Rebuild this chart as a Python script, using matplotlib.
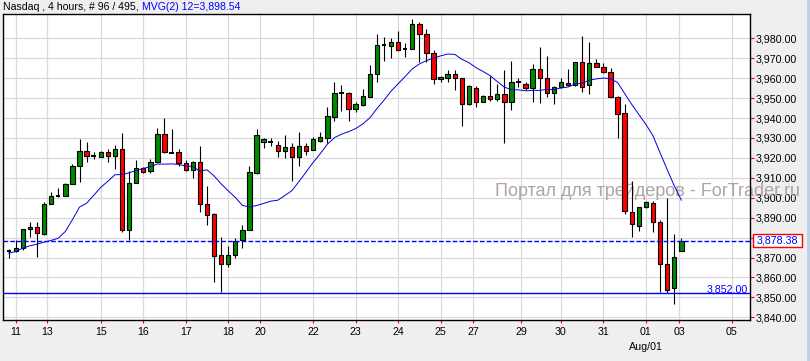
import matplotlib
matplotlib.use('Agg')
import matplotlib.pyplot as plt
import matplotlib.transforms as mtransforms
from matplotlib.patches import Rectangle
import numpy as np
import pandas as pd

# ---------------- data ----------------
opens = [3873.4, 3873.5, 3874.6, 3884.3, 3885.3, 3881.9, 3896.8, 3901.1, 3900.9, 3906.9,
         3915.8, 3923.5, 3920.8, 3920.4, 3923.0, 3920.8, 3924.5, 3883.8, 3907.4, 3914.8,
         3913.2, 3917.8, 3932.2, 3922.7, 3923.0, 3917.4, 3913.8, 3918.0, 3896.8, 3891.7,
         3871.3, 3866.8, 3871.3, 3878.9, 3883.6, 3912.4, 3927.8, 3928.0, 3926.3, 3923.3,
         3925.5, 3920.6, 3926.0, 3923.8, 3928.7, 3930.2, 3940.7, 3952.5, 3952.6, 3944.4,
         3946.4, 3950.7, 3961.9, 3976.4, 3976.2, 3978.0, 3974.5, 3974.5, 3987.0, 3982.2,
         3972.5, 3959.4, 3960.3, 3961.9, 3960.1, 3946.9, 3955.0, 3947.9, 3950.9, 3949.6,
         3951.9, 3948.2, 3957.9, 3956.9, 3954.9, 3964.4, 3959.9, 3952.4, 3955.4, 3957.4,
         3956.6, 3968.0, 3956.4, 3967.6, 3965.5, 3962.9, 3950.4, 3942.4, 3892.9, 3885.8,
         3895.2, 3897.2, 3887.8, 3866.6, 3854.6, 3873.4]
highs = [3874.5, 3879.0, 3884.5, 3888.0, 3888.0, 3897.7, 3902.7, 3904.9, 3907.4, 3916.8,
         3929.5, 3928.2, 3922.8, 3923.3, 3924.6, 3926.3, 3932.5, 3913.3, 3919.1, 3915.6,
         3919.5, 3935.0, 3939.9, 3934.7, 3924.5, 3918.8, 3918.3, 3926.1, 3905.7, 3892.5,
         3880.5, 3875.8, 3879.7, 3886.4, 3916.1, 3934.4, 3929.9, 3929.8, 3928.3, 3931.5,
         3927.5, 3933.0, 3927.4, 3930.7, 3932.8, 3945.4, 3958.1, 3956.6, 3953.1, 3948.0,
         3954.6, 3966.6, 3982.0, 3980.8, 3980.0, 3983.7, 3977.8, 3989.7, 3988.2, 3984.5,
         3974.1, 3961.2, 3964.1, 3964.1, 3960.3, 3956.6, 3955.9, 3951.6, 3961.1, 3957.1,
         3964.1, 3968.6, 3960.2, 3958.3, 3967.1, 3975.5, 3971.1, 3956.1, 3959.9, 3964.6,
         3968.2, 3981.2, 3978.2, 3969.5, 3967.5, 3965.0, 3951.1, 3947.0, 3908.4, 3895.2,
         3898.5, 3898.5, 3888.8, 3899.7, 3881.7, 3879.6]
lows = [3869.7, 3873.0, 3874.0, 3880.3, 3870.5, 3881.4, 3896.8, 3900.4, 3900.9, 3906.9,
        3908.0, 3917.8, 3919.4, 3920.4, 3918.1, 3914.4, 3882.6, 3878.9, 3907.4, 3912.4,
        3912.5, 3917.8, 3922.5, 3922.3, 3915.8, 3913.2, 3909.9, 3892.6, 3886.4, 3857.9,
        3852.6, 3865.1, 3870.0, 3874.6, 3883.6, 3911.8, 3925.2, 3926.2, 3920.6, 3919.8,
        3908.6, 3916.1, 3921.6, 3923.8, 3928.2, 3927.6, 3938.7, 3943.5, 3938.7, 3943.2,
        3946.2, 3950.5, 3958.3, 3968.8, 3970.0, 3973.6, 3970.5, 3974.5, 3968.0, 3968.3,
        3956.9, 3958.1, 3958.1, 3954.1, 3936.1, 3946.6, 3945.4, 3947.9, 3948.7, 3948.7,
        3927.6, 3944.0, 3955.8, 3954.1, 3948.2, 3947.7, 3950.4, 3946.9, 3954.9, 3956.1,
        3956.1, 3952.9, 3951.9, 3965.5, 3962.4, 3950.4, 3929.9, 3891.7, 3880.5, 3883.5,
        3894.7, 3883.0, 3852.6, 3852.1, 3846.6, 3873.4]
closes = [3873.4, 3875.0, 3884.3, 3885.3, 3882.3, 3897.0, 3900.9, 3901.1, 3907.0, 3916.1,
          3923.5, 3921.1, 3920.8, 3923.0, 3921.0, 3924.5, 3883.8, 3907.4, 3914.8, 3913.1,
          3917.8, 3932.2, 3922.8, 3922.7, 3917.4, 3913.8, 3917.8, 3896.8, 3891.5, 3870.9,
          3866.8, 3871.3, 3878.3, 3883.9, 3913.1, 3931.5, 3929.5, 3928.0, 3923.3, 3925.5,
          3920.6, 3925.8, 3923.6, 3929.7, 3930.5, 3941.0, 3952.6, 3952.5, 3944.4, 3946.9,
          3950.9, 3961.9, 3976.7, 3976.4, 3978.0, 3974.1, 3974.5, 3987.0, 3982.2, 3972.5,
          3959.4, 3960.6, 3961.9, 3960.1, 3946.9, 3956.1, 3947.9, 3950.9, 3949.4, 3951.9,
          3948.2, 3957.9, 3957.9, 3954.9, 3964.4, 3959.9, 3952.4, 3955.4, 3957.9, 3956.4,
          3968.0, 3955.4, 3967.6, 3965.5, 3962.9, 3950.4, 3941.9, 3893.4, 3886.8, 3895.2,
          3897.9, 3887.8, 3866.6, 3853.7, 3870.5, 3878.38]
# moving-average values for the first bars (earlier history not visible)
ma_lead = [3872.2, 3873.0, 3874.7, 3875.9, 3876.7, 3877.7, 3878.6, 3879.7, 3883.1, 3889.0, 3895.3]
ma_period = 12
last_price = 3878.38
support_level = 3852.00
date_ticks = [1, 5.45, 13, 19, 25, 31, 35.5, 43, 49, 55, 61, 65.6, 72.4, 78, 84, 90, 94.7, 102.1]
date_labels = ['11', '13', '15', '16', '17', '18', '20', '22', '23', '24', '25', '27', '29',
               '30', '31', '01', '03', '05']
month_tick = 90
month_label = 'Aug/01'
price_ticks = list(range(3840, 3990, 10))
title_main = 'Nasdaq , 4 hours, # 96 / 495,'
title_ma = 'MVG(2) 12=3,898.54'
watermark = 'Портал для трейдеров - ForTrader.ru'

# ---------------- figure ----------------
W, H = 810, 361
FONT = 'Liberation Sans'
plt.rcParams['font.family'] = [FONT, 'DejaVu Sans']
fig = plt.figure(figsize=(W / 100, H / 100), dpi=100, facecolor='#EFEFEF')
L, R, T, B = 2.5, 750, 14.3, 320
ax = fig.add_axes([L / W, 1 - B / H, (R - L) / W, (B - T) / H])
ax.set_facecolor('white')

o = np.array(opens); h = np.array(highs); lo = np.array(lows); c = np.array(closes)
x = np.arange(len(c))
ax.set_xlim(-0.876, 104.7)
ax.set_ylim(3838.66, 3992.04)

GREEN = '#008A00'
RED = '#FF0000'
bw = 0.62
ax.vlines(x, lo, h, color='black', lw=0.8, zorder=3)
up = c > o
dn = c < o
dj = c == o
ax.bar(x[up], (c - o)[up], bottom=o[up], width=bw, color=GREEN, edgecolor='black',
       linewidth=0.8, zorder=4)
ax.bar(x[dn], (o - c)[dn], bottom=c[dn], width=bw, color=RED, edgecolor='black',
       linewidth=0.8, zorder=4)
ax.hlines(c[dj], x[dj] - bw / 2, x[dj] + bw / 2, color='black', lw=1.4, zorder=4)

ma = pd.Series(c).rolling(ma_period).mean().to_numpy()
ma[:len(ma_lead)] = ma_lead
ax.plot(x, ma, color='#0000DD', lw=0.7, zorder=5)

ax.axhline(last_price, color='#0000FF', lw=1.0, linestyle=(0, (3.4, 1.5)), zorder=6)
ax.axhline(support_level, color='#0000FF', lw=1.0, zorder=6)
blend = mtransforms.blended_transform_factory(ax.transAxes, ax.transData)
ax.text(1 - 2.5 / (R - L), support_level + 0.6, f'{support_level:,.2f}', transform=blend,
        ha='right', va='baseline', color='#0000FF', fontsize=7.7, zorder=7)

# grid / ticks
ax.set_axisbelow(True)
ax.grid(True, color='#D9D9D9', lw=0.9)
ax.set_xticks(date_ticks)
ax.set_xticklabels(date_labels)
ax.set_yticks(price_ticks)
# the label nearest the last price is hidden behind the last-price box
ax.set_yticklabels(['' if abs(v - last_price) < 5 else f'{v:,.2f}' for v in price_ticks])
ax.yaxis.tick_right()
ax.tick_params(axis='y', colors=RED, labelcolor='black', length=3.2, width=0.8,
               pad=1.0, labelsize=7.7, direction='out')
ax.tick_params(axis='x', colors=RED, labelcolor='black', length=1.8, width=0.8,
               pad=3.0, labelsize=7.7, direction='out')
for s in ax.spines.values():
    s.set_color('black')
    s.set_linewidth(1.0)

blend_x = mtransforms.blended_transform_factory(ax.transData, fig.transFigure)
ax.text(month_tick, 1 - 346.5 / H, month_label, transform=blend_x, ha='center',
        va='center', fontsize=7.7, clip_on=False)

# watermark (behind the candles)
ax.text(495 / W, 1 - 196 / H, watermark, transform=fig.transFigure, ha='left',
        va='baseline', fontsize=13, color='#B0A3A3', clip_on=False, zorder=1)

# last price box on the right axis
box = Rectangle((753.3 / W, 1 - 246.7 / H), 48.4 / W, 12.4 / H, transform=fig.transFigure,
                facecolor='white', edgecolor=RED, lw=1.0, zorder=10)
fig.add_artist(box)
fig.text(777.5 / W, 1 - 240.5 / H, f'{last_price:,.2f}', ha='center', va='center',
         color='#0000FF', fontsize=7.7, zorder=11)

# title
fig.text(3 / W, 1 - 7.3 / H, title_main, ha='left', va='center', fontsize=7.6, color='black')
fig.text(142.5 / W, 1 - 7.3 / H, title_ma, ha='left', va='center', fontsize=7.6, color='#0000FF')

# right edge stripe
fig.add_artist(Rectangle((806.5 / W, 0), 3.5 / W, 1, transform=fig.transFigure,
                         facecolor='#BCD0E8', edgecolor='none', zorder=10))

fig.savefig('out.png', dpi=100, facecolor=fig.get_facecolor())
